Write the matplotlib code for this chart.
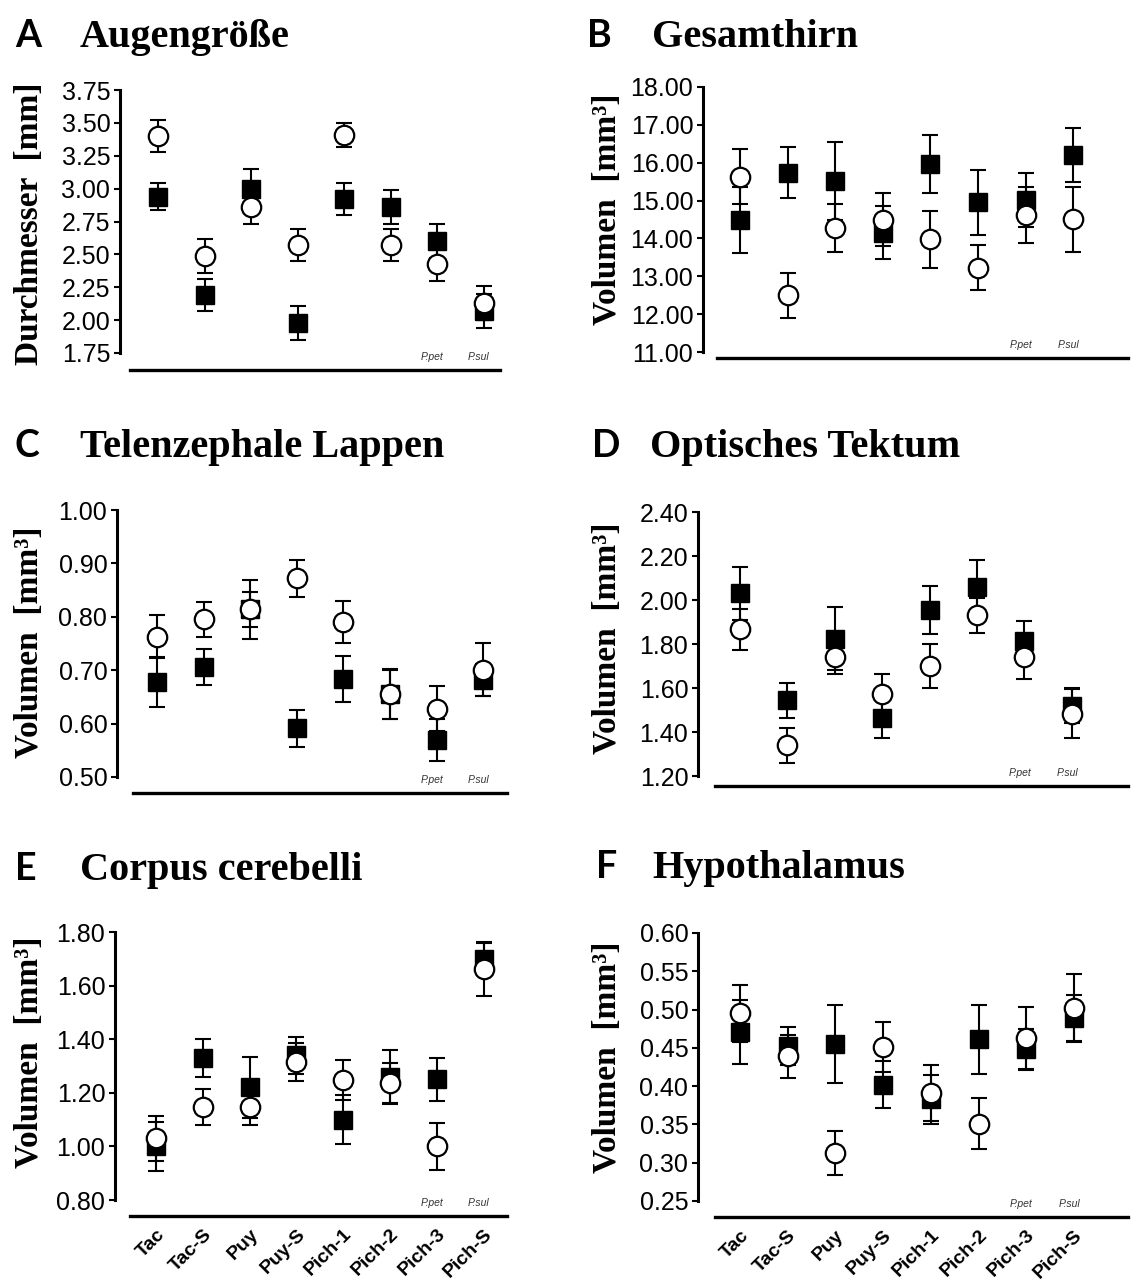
# Six-panel brain/eye size comparison: filled squares vs open circles per population

import matplotlib.pyplot as plt
from matplotlib import transforms

W, H = 1131, 1285
DPI = 100

groups = ["Tac", "Tac-S", "Puy", "Puy-S", "Pich-1", "Pich-2", "Pich-3", "Pich-S"]

# A  eye diameter (mm)
eye_sq = [2.94, 2.19, 3.00, 1.98, 2.92, 2.86, 2.60, 2.07]
eye_sq_err = [0.10, 0.12, 0.15, 0.13, 0.12, 0.13, 0.13, 0.13]
eye_ci = [3.40, 2.49, 2.86, 2.57, 3.41, 2.57, 2.43, 2.13]
eye_ci_err = [0.12, 0.13, 0.13, 0.12, 0.09, 0.12, 0.13, 0.13]

# B  whole brain (mm3)
brain_sq = [14.49, 15.74, 15.52, 14.15, 15.97, 14.95, 15.02, 16.21]
brain_sq_err = [0.87, 0.67, 1.04, 0.70, 0.77, 0.86, 0.72, 0.72]
brain_ci = [15.63, 12.50, 14.28, 14.50, 13.98, 13.23, 14.62, 14.51]
brain_ci_err = [0.73, 0.59, 0.63, 0.70, 0.75, 0.60, 0.75, 0.86]

# C  telencephalic lobes
tel_sq = [0.678, 0.706, 0.814, 0.591, 0.684, 0.656, 0.569, 0.681]
tel_sq_err = [0.047, 0.033, 0.055, 0.035, 0.043, 0.047, 0.039, 0.030]
tel_ci = [0.763, 0.795, 0.814, 0.872, 0.790, 0.655, 0.628, 0.701]
tel_ci_err = [0.040, 0.033, 0.033, 0.034, 0.039, 0.046, 0.042, 0.050]

# D  optic tectum
tec_sq = [2.03, 1.545, 1.825, 1.465, 1.955, 2.06, 1.815, 1.52]
tec_sq_err = [0.12, 0.08, 0.145, 0.09, 0.11, 0.12, 0.09, 0.08]
tec_ci = [1.866, 1.34, 1.742, 1.575, 1.70, 1.93, 1.742, 1.484]
tec_ci_err = [0.094, 0.08, 0.08, 0.09, 0.10, 0.08, 0.10, 0.11]

# E  corpus cerebelli
cer_sq = [1.00, 1.33, 1.22, 1.34, 1.10, 1.26, 1.25, 1.70]
cer_sq_err = [0.09, 0.07, 0.115, 0.07, 0.09, 0.10, 0.08, 0.06]
cer_ci = [1.03, 1.148, 1.148, 1.315, 1.247, 1.237, 1.00, 1.663]
cer_ci_err = [0.083, 0.068, 0.068, 0.07, 0.075, 0.075, 0.087, 0.10]

# F  hypothalamus
hyp_sq = [0.471, 0.452, 0.455, 0.402, 0.383, 0.461, 0.448, 0.489]
hyp_sq_err = [0.042, 0.025, 0.051, 0.031, 0.032, 0.045, 0.027, 0.030]
hyp_ci = [0.495, 0.439, 0.313, 0.451, 0.391, 0.351, 0.463, 0.502]
hyp_ci_err = [0.037, 0.028, 0.029, 0.033, 0.037, 0.033, 0.040, 0.044]

SERIF = "Liberation Serif"
SANS = "Liberation Sans"
LETTER = "Lato"

VOL = "Volumen  [mm³]"

# letter, title, ylabel, yticks, data, pixel geometry
panels = [
    dict(letter="A", title="Augengröße", ylabel="Durchmesser  [mm]",
         yticks=[1.75, 2.00, 2.25, 2.50, 2.75, 3.00, 3.25, 3.50, 3.75],
         data=(eye_sq, eye_sq_err, eye_ci, eye_ci_err),
         spine=120, ytop=90, ybot=353, base=370, bx0=130, bx1=500, right=505,
         p0=158, dx=46.5, head=(15, 80, 47), ylab=(30, 224)),
    dict(letter="B", title="Gesamthirn", ylabel=VOL,
         yticks=[11, 12, 13, 14, 15, 16, 17, 18],
         data=(brain_sq, brain_sq_err, brain_ci, brain_ci_err),
         spine=703, ytop=87, ybot=352, base=358, bx0=717, bx1=1128, right=1131,
         p0=740, dx=47.6, head=(587, 652, 47), ylab=(607, 209)),
    dict(letter="C", title="Telenzephale Lappen", ylabel=VOL,
         yticks=[0.5, 0.6, 0.7, 0.8, 0.9, 1.0],
         data=(tel_sq, tel_sq_err, tel_ci, tel_ci_err),
         spine=117, ytop=510, ybot=777, base=793, bx0=133, bx1=507, right=510,
         p0=157, dx=46.6, head=(15, 80, 457), ylab=(30, 642)),
    dict(letter="D", title="Optisches Tektum", ylabel=VOL,
         yticks=[1.2, 1.4, 1.6, 1.8, 2.0, 2.2, 2.4],
         data=(tec_sq, tec_sq_err, tec_ci, tec_ci_err),
         spine=698, ytop=512, ybot=776, base=786, bx0=715, bx1=1128, right=1131,
         p0=740, dx=47.4, head=(592, 650, 457), ylab=(607, 638)),
    dict(letter="E", title="Corpus cerebelli", ylabel=VOL,
         yticks=[0.8, 1.0, 1.2, 1.4, 1.6, 1.8],
         data=(cer_sq, cer_sq_err, cer_ci, cer_ci_err),
         spine=115, ytop=932, ybot=1200, base=1216, bx0=130, bx1=507, right=510,
         p0=156, dx=46.8, head=(15, 80, 880), ylab=(30, 1052)),
    dict(letter="F", title="Hypothalamus", ylabel=VOL,
         yticks=[0.25, 0.30, 0.35, 0.40, 0.45, 0.50, 0.55, 0.60],
         data=(hyp_sq, hyp_sq_err, hyp_ci, hyp_ci_err),
         spine=698, ytop=933, ybot=1201, base=1217, bx0=715, bx1=1128, right=1131,
         p0=740, dx=47.7, head=(596, 652, 878), ylab=(607, 1057)),
]


def draw_panel(fig, p, xlabels):
    ymin, ymax = p["yticks"][0], p["yticks"][-1]
    k = (p["ybot"] - p["ytop"]) / (ymax - ymin)  # px per unit
    top_px = p["ytop"] - 8
    left, right, bottom = p["spine"], p["right"], p["base"]
    ax = fig.add_axes([left / W, 1 - bottom / H, (right - left) / W, (bottom - top_px) / H])
    ax.set_ylim(ymin - (bottom - p["ybot"]) / k, ymax + 8 / k)
    ax.set_xlim((left - p["p0"]) / p["dx"], (right - p["p0"]) / p["dx"])
    ax.patch.set_alpha(0)

    for s in ("top", "right"):
        ax.spines[s].set_visible(False)
    ax.spines["left"].set_bounds(ymin, ymax)
    ax.spines["left"].set_linewidth(2.2)
    ax.spines["bottom"].set_bounds((p["bx0"] - p["p0"]) / p["dx"], (p["bx1"] - p["p0"]) / p["dx"])
    ax.spines["bottom"].set_linewidth(2.4)

    ax.set_yticks(p["yticks"])
    ax.set_yticklabels([f"{v:.2f}" for v in p["yticks"]], fontfamily=SANS, fontsize=18)
    ax.tick_params(axis="y", length=4, width=1.5, pad=3)

    x = list(range(len(groups)))
    if xlabels:
        ax.set_xticks(x)
        ax.set_xticklabels(groups, rotation=45, ha="right", rotation_mode="anchor",
                           fontfamily=SANS, fontweight="bold", fontsize=14)
        ax.tick_params(axis="x", length=0, pad=7)
    else:
        ax.set_xticks([])

    sq, sq_err, ci, ci_err = p["data"]
    ax.errorbar(x, sq, yerr=sq_err, fmt="none", ecolor="black", elinewidth=1.5,
                capsize=6, capthick=1.5, zorder=2, clip_on=False)
    ax.plot(x, sq, ls="none", marker="s", ms=13, color="black", zorder=3, clip_on=False)
    ax.errorbar(x, ci, yerr=ci_err, fmt="none", ecolor="black", elinewidth=1.5,
                capsize=6, capthick=1.5, zorder=4, clip_on=False)
    ax.plot(x, ci, ls="none", marker="o", ms=14, mfc="white", mec="black", mew=1.6,
            zorder=5, clip_on=False)

    # species tags above the baseline
    tr = transforms.blended_transform_factory(ax.transData, ax.transAxes)
    for xi, tag in [(6, "P.pet"), (7, "P.sul")]:
        ax.annotate(tag, (xi - 0.1, 0), xycoords=tr, xytext=(0, 6), textcoords="offset points",
                    ha="center", va="bottom", fontsize=7.5, style="italic",
                    fontfamily=SANS, color="#333333")

    lx, tx, ty = p["head"]
    fig.text(lx / W, 1 - ty / H, p["letter"], fontfamily=LETTER, fontweight="bold",
             fontsize=27, ha="left", va="baseline")
    fig.text(tx / W, 1 - ty / H, p["title"], fontfamily=SERIF, fontweight="bold",
             fontsize=29, ha="left", va="baseline")
    yx, yy = p["ylab"]
    fig.text(yx / W, 1 - yy / H, p["ylabel"], fontfamily=SERIF, fontweight="bold",
             fontsize=24, rotation=90, ha="center", va="center")
    return ax


def main():
    fig = plt.figure(figsize=(W / DPI, H / DPI), dpi=DPI)
    fig.patch.set_facecolor("white")
    for i, p in enumerate(panels):
        draw_panel(fig, p, xlabels=i >= 4)
    fig.savefig("out.png", dpi=DPI)
    plt.close(fig)


if __name__ == "__main__":
    main()
